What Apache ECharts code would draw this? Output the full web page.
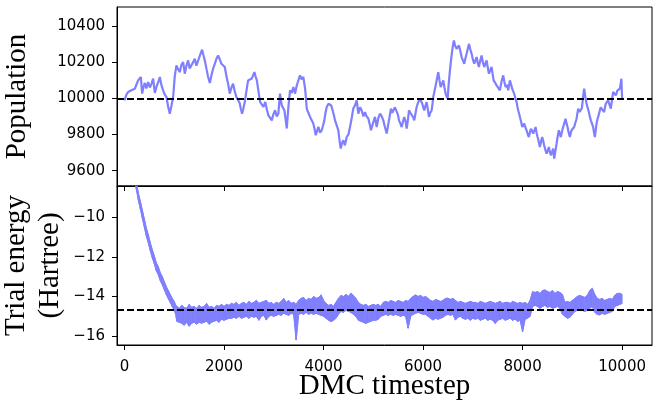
<!DOCTYPE html>
<html>
<head>
<meta charset="utf-8">
<script src="https://cdn.jsdelivr.net/npm/echarts@6/dist/echarts.min.js"></script>
<style>html,body{margin:0;padding:0;background:#fff;}#c{width:653px;height:401px;}</style>
</head>
<body>
<div id="c"></div>
<script>
// ---- data ----
const xTicks = [0, 2000, 4000, 6000, 8000, 10000];
const popTicks = [9600, 9800, 10000, 10200, 10400];
const energyTicks = [-16, -14, -12, -10];
const popReference = 10000;
const energyReference = -14.65;

const popSteps = [0,40,74,140,208,240,275,329,355,380,409,440,475,510,542,576,610,650,680,710,745,777,810,844,880,911,945,978,1010,1044,1080,1112,1145,1179,1212,1245,1279,1310,1346,1380,1413,1445,1480,1520,1560,1590,1614,1650,1681,1715,1750,1781,1815,1848,1882,1915,1948,1980,2016,2050,2082,2116,2150,2183,2215,2249,2285,2317,2340,2363,2390,2418,2450,2484,2524,2560,2611,2635,2660,2690,2725,2760,2792,2830,2860,2892,2925,2960,2990,3026,3060,3092,3126,3160,3190,3213,3240,3261,3294,3327,3360,3394,3428,3462,3495,3528,3560,3594,3630,3663,3695,3729,3760,3795,3820,3843,3870,3896,3930,3964,3990,4016,4040,4064,4100,4131,4155,4177,4205,4231,4265,4297,4320,4345,4370,4398,4430,4466,4500,4532,4565,4598,4630,4667,4699,4735,4767,4800,4833,4865,4900,4925,4954,4980,5000,5034,5068,5100,5135,5170,5201,5235,5269,5290,5315,5355,5380,5402,5435,5470,5495,5516,5545,5570,5595,5622,5650,5671,5695,5717,5745,5771,5800,5823,5850,5871,5905,5938,5960,5984,6004,6024,6050,6072,6095,6118,6145,6172,6190,6205,6230,6253,6280,6305,6330,6353,6380,6406,6430,6454,6475,6494,6515,6540,6565,6586,6605,6620,6645,6674,6700,6721,6750,6775,6800,6827,6850,6875,6900,6922,6950,6976,7000,7028,7050,7076,7100,7122,7150,7176,7200,7229,7250,7277,7300,7323,7350,7377,7400,7418,7450,7478,7510,7544,7575,7610,7635,7658,7685,7711,7730,7745,7770,7791,7810,7831,7855,7879,7895,7912,7930,7946,7970,7992,8012,8032,8055,8080,8105,8126,8145,8166,8190,8213,8240,8261,8280,8301,8325,8347,8370,8393,8413,8433,8458,8481,8505,8527,8547,8567,8590,8614,8634,8660,8683,8705,8729,8750,8769,8790,8815,8840,8863,8883,8903,8925,8950,8965,8983,9010,9036,9060,9084,9100,9117,9145,9170,9190,9204,9220,9237,9260,9285,9310,9331,9350,9371,9395,9418,9435,9452,9470,9486,9500,9518,9535,9552,9570,9586,9610,9638,9655,9672,9695,9719,9745,9773,9795,9819,9845,9873,9890,9907,9930,9954,9970,9985,9993,10000];
const popValues = [9989,10020,10035,10045,10053,10075,10099,10118,10026,10060,10085,10055,10090,10060,10080,10109,10030,10070,10090,10118,10070,10044,10020,10007,9950,9915,9960,10007,10120,10182,10160,10145,10185,10200,10136,10180,10210,10165,10155,10200,10219,10180,10191,10240,10269,10235,10210,10160,10118,10085,10130,10164,10190,10219,10237,10215,10191,10200,10173,10120,10081,10026,10060,10081,10040,10007,9990,9971,9940,9915,9945,9979,10040,10099,10090,10110,10145,10120,10099,10044,9980,9990,9952,9980,9940,9906,9900,9878,9910,9934,9900,9915,10026,9961,9950,9934,9880,9833,9952,10044,10030,10062,10026,10071,10100,10127,10105,10118,10053,9943,9920,9897,9880,9860,9830,9796,9820,9842,9810,9823,9850,9878,9920,9952,9970,9979,9960,9952,9910,9878,9850,9823,9770,9722,9750,9768,9740,9786,9800,9841,9890,9943,9960,9989,9915,9950,9933,9900,9924,9900,9888,9860,9823,9850,9860,9897,9841,9890,9915,9900,9878,9840,9805,9840,9878,9943,9920,9915,9950,9943,9910,9878,9860,9841,9870,9897,9870,9832,9880,9933,9920,9915,9895,9878,9920,9952,9980,9998,9985,9970,9950,9933,9960,9979,9940,9897,9920,9933,9970,10007,10040,10071,10110,10145,10100,10062,10080,10099,10060,10025,10010,9998,10080,10154,10220,10265,10300,10320,10290,10274,10285,10292,10260,10228,10210,10191,10220,10246,10275,10301,10270,10246,10215,10191,10210,10228,10195,10173,10210,10237,10200,10173,10190,10209,10170,10136,10155,10173,10130,10099,10085,10071,10060,10044,10090,10127,10090,10062,10075,10044,10075,10099,10075,10053,10040,10025,10000,9979,9955,9933,9915,9897,9870,9841,9850,9860,9840,9823,9800,9786,9810,9832,9820,9805,9825,9841,9810,9786,9760,9731,9760,9786,9765,9740,9715,9694,9710,9731,9705,9685,9700,9722,9667,9710,9749,9790,9823,9800,9786,9815,9841,9865,9887,9860,9841,9810,9786,9805,9823,9830,9841,9865,9887,9915,9943,9925,9915,9945,9979,10020,10053,10010,9970,9945,9924,9900,9878,9860,9841,9810,9786,9825,9860,9880,9897,9915,9933,9950,9961,9940,9924,9950,9970,9980,9989,9965,9943,9990,10035,10025,10016,10030,10044,10050,10053,10080,10108,10040,9998];

// trial energy: the noisy trace is read as its upper and lower envelope
const energyDecaySteps = [0,100,200,240,280,320,360,400,440,480,520,560,600,640,680,720,760,800,840,880,920,960,1000,1030];
const energyDecayUpper = [-5.4,-6.7,-7.7,-8.2,-8.8,-9.2,-9.65,-10.1,-10.55,-10.9,-11.3,-11.65,-11.95,-12.3,-12.5,-12.8,-13.0,-13.25,-13.5,-13.7,-13.9,-14.1,-14.25,-14.45];
const energyDecayLower = [-5.8,-7.1,-8.1,-8.6,-9.15,-9.6,-10.05,-10.5,-10.95,-11.3,-11.7,-12.05,-12.35,-12.7,-12.9,-13.2,-13.4,-13.65,-13.9,-14.1,-14.3,-14.5,-14.7,-14.9];
// equilibrated part, sampled every 50 steps from 1050 to 10000
const energyFlatStart = 1050, energyFlatStep = 50;
const energyFlatUpper = [
 -14.5,-14.6,-14.45,-14.55,-14.6,-14.4,-14.55,-14.5,-14.6,-14.45,-14.55,-14.5,-14.35,-14.55,-14.5,-14.6,-14.45,-14.5,-14.4,-14.5,
 -14.4,-14.45,-14.35,-14.4,-14.3,-14.45,-14.35,-14.3,-14.4,-14.25,-14.35,-14.3,-14.2,-14.35,-14.3,-14.25,-14.2,-14.35,-14.3,-14.4,
 -14.3,-14.35,-14.25,-14.1,-14.3,-14.2,-14.35,-14.3,-14.4,-14.2,-14.1,-14.05,-14.2,-14.1,-14.15,-14.0,-14.1,-14.05,-13.92,-14.2,
 -14.35,-14.45,-14.4,-14.5,-14.3,-14.1,-13.95,-14.0,-13.9,-14.0,-13.84,-13.95,-14.1,-14.3,-14.4,-14.45,-14.4,-14.5,-14.45,-14.4,
 -14.45,-14.4,-14.5,-14.3,-14.25,-14.3,-14.2,-14.25,-14.3,-14.2,-14.25,-14.3,-14.2,-14.25,-14.1,-14.0,-13.92,-14.0,-13.95,-14.05,
 -14.0,-14.1,-14.2,-14.25,-14.15,-14.2,-14.25,-14.2,-14.1,-14.09,-14.15,-14.1,-14.2,-14.3,-14.25,-14.3,-14.35,-14.3,-14.25,-14.3,
 -14.3,-14.35,-14.25,-14.3,-14.35,-14.3,-14.25,-14.3,-14.35,-14.3,-14.25,-14.35,-14.3,-14.3,-14.35,-14.25,-14.3,-14.35,-14.3,-14.35,
 -14.3,-14.4,-14.2,-13.76,-13.8,-13.75,-13.85,-13.7,-13.67,-13.75,-13.8,-13.7,-13.85,-13.75,-13.8,-13.9,-14.3,-14.25,-14.3,-14.2,
 -14.1,-14.0,-13.95,-14.0,-14.05,-13.95,-13.7,-13.59,-13.9,-14.1,-14.15,-14.1,-14.2,-14.15,-14.1,-14.15,-13.95,-13.85,-13.84,-13.9
];
const energyFlatLower = [
 -15.25,-15.3,-15.35,-15.45,-15.3,-15.5,-15.35,-15.3,-15.4,-15.3,-15.35,-15.3,-15.25,-15.4,-15.3,-15.25,-15.2,-15.3,-15.15,-15.2,
 -15.15,-15.1,-15.1,-15.05,-15.1,-15.0,-15.1,-15.05,-15.0,-15.1,-15.0,-15.05,-15.0,-15.2,-15.0,-14.95,-15.19,-15.0,-14.95,-15.0,
 -14.95,-14.9,-14.95,-14.85,-14.9,-14.95,-14.85,-14.9,-16.2,-14.9,-14.85,-14.9,-14.8,-14.9,-14.85,-14.9,-14.85,-14.9,-14.95,-15.0,
 -15.1,-15.2,-15.27,-15.2,-15.1,-14.9,-14.75,-14.8,-14.7,-14.75,-14.8,-14.9,-15.0,-15.2,-15.25,-15.3,-15.36,-15.3,-15.25,-15.2,
 -15.2,-15.15,-15.0,-14.95,-14.9,-14.95,-14.9,-14.95,-14.9,-14.95,-15.0,-14.95,-15.0,-15.6,-15.0,-14.9,-14.85,-14.8,-14.85,-14.9,
 -14.9,-15.0,-15.1,-15.19,-15.1,-15.15,-15.1,-15.05,-14.95,-14.9,-14.95,-14.9,-15.19,-15.05,-15.0,-15.1,-15.15,-15.1,-15.2,-15.1,
 -15.15,-15.1,-15.2,-15.15,-15.1,-15.2,-15.15,-15.2,-15.36,-15.2,-15.15,-15.1,-15.2,-15.15,-15.1,-15.2,-15.15,-15.25,-15.2,-15.78,
 -15.15,-15.1,-15.0,-14.5,-14.45,-14.5,-14.6,-14.5,-14.45,-14.55,-14.5,-14.6,-14.55,-14.5,-14.6,-14.9,-15.0,-15.1,-15.05,-14.9,
 -14.75,-14.7,-14.65,-14.7,-14.75,-14.7,-14.6,-14.5,-14.8,-14.9,-14.93,-14.85,-14.9,-14.85,-14.8,-14.75,-14.5,-14.45,-14.4,-14.35
];

// ---- build series data ----
const popData = popSteps.map((t, i) => [t, popValues[i]]);
const energySteps = energyDecaySteps.slice();
energyFlatUpper.forEach((v, i) => energySteps.push(energyFlatStart + i * energyFlatStep));
const energyUpper = energyDecayUpper.concat(energyFlatUpper);
const energyLower = energyDecayLower.concat(energyFlatLower);
// one band segment per consecutive pair of samples: [t0, lo0, hi0, t1, lo1, hi1]
const bandSegments = energySteps.slice(0, -1).map((t, i) =>
  [t, energyLower[i], energyUpper[i], energySteps[i + 1], energyLower[i + 1], energyUpper[i + 1]]);
const upperData = energySteps.map((t, i) => [t, energyUpper[i]]);
const lowerData = energySteps.map((t, i) => [t, energyLower[i]]);

const LINE = '#7f7fff';
const tickFont = { fontFamily: 'DejaVu Sans', fontSize: 15, color: '#000' };
const nameFont = { fontFamily: 'Liberation Serif', fontSize: 29, color: '#000' };
const plain = v => String(v).replace('-', '\u2212');
const axisLineBlack = { show: true, onZero: false, lineStyle: { color: '#000', width: 1 } };
const tickStyle = vals => ({ show: true, inside: false, length: 5, customValues: vals, lineStyle: { color: '#000', width: 1 } });
const dashed = v => ({ silent: true, symbol: 'none', label: { show: false }, animation: false,
  lineStyle: { color: '#000', width: 2, type: [7, 3] }, data: [{ yAxis: v }] });

const chart = echarts.init(document.getElementById('c'), null, { renderer: 'canvas' });
chart.setOption({
  animation: false,
  backgroundColor: '#fff',
  grid: [
    { left: 117, top: 7, width: 535, height: 179, show: true, borderColor: '#000', borderWidth: 1,
      backgroundColor: 'transparent', containLabel: false, outerBoundsMode: 'none' },
    { left: 117, top: 186, width: 535, height: 159, show: true, borderColor: '#000', borderWidth: 1,
      backgroundColor: 'transparent', containLabel: false, outerBoundsMode: 'none' }
  ],
  xAxis: [
    { gridIndex: 0, type: 'value', min: -150, max: 10600, axisLine: axisLineBlack, axisTick: tickStyle(xTicks),
      axisLabel: { show: false }, splitLine: { show: false } },
    { gridIndex: 1, type: 'value', min: -150, max: 10600, axisLine: axisLineBlack, axisTick: tickStyle(xTicks),
      axisLabel: Object.assign({ customValues: xTicks, margin: 15, formatter: plain }, tickFont), splitLine: { show: false },
      name: 'DMC timestep', nameLocation: 'middle', nameGap: 27, nameMoveOverlap: false, nameTextStyle: nameFont }
  ],
  yAxis: [
    { gridIndex: 0, type: 'value', min: 9515, max: 10505, axisLine: axisLineBlack, axisTick: tickStyle(popTicks),
      axisLabel: Object.assign({ customValues: popTicks, margin: 12, formatter: plain }, tickFont), splitLine: { show: false },
      name: 'Population', nameLocation: 'middle', nameGap: 85, nameMoveOverlap: false, nameTextStyle: nameFont },
    { gridIndex: 1, type: 'value', min: -16.45, max: -8.42, axisLine: axisLineBlack, axisTick: tickStyle(energyTicks),
      axisLabel: Object.assign({ customValues: energyTicks, margin: 12, formatter: plain }, tickFont), splitLine: { show: false },
      name: 'Trial energy\n(Hartree)', nameLocation: 'middle', nameGap: 50, nameMoveOverlap: false,
      nameTextStyle: Object.assign({ lineHeight: 34, align: 'center' }, nameFont) }
  ],
  series: [
    { type: 'line', xAxisIndex: 0, yAxisIndex: 0, data: popData, showSymbol: false, symbol: 'none',
      lineStyle: { color: LINE, width: 2.2 }, clip: true, silent: true, markLine: dashed(popReference) },
    { type: 'custom', xAxisIndex: 1, yAxisIndex: 1, data: bandSegments, clip: true, silent: true, z: 2,
      encode: { x: [0, 3], y: [1, 2, 4, 5] },
      renderItem: (params, api) => {
        const a = api.coord([api.value(0), api.value(1)]);
        const b = api.coord([api.value(0), api.value(2)]);
        const c = api.coord([api.value(3), api.value(5)]);
        const d = api.coord([api.value(3), api.value(4)]);
        return { type: 'polygon', shape: { points: [a, b, c, d] },
          style: { fill: LINE, stroke: LINE, lineWidth: 0.8 } };
      } },
    { type: 'line', xAxisIndex: 1, yAxisIndex: 1, data: upperData, showSymbol: false, symbol: 'none', z: 3,
      lineStyle: { color: LINE, width: 1 }, clip: true, silent: true, markLine: dashed(energyReference) },
    { type: 'line', xAxisIndex: 1, yAxisIndex: 1, data: lowerData, showSymbol: false, symbol: 'none', z: 3,
      lineStyle: { color: LINE, width: 1 }, clip: true, silent: true }
  ]
});
</script>
</body>
</html>
